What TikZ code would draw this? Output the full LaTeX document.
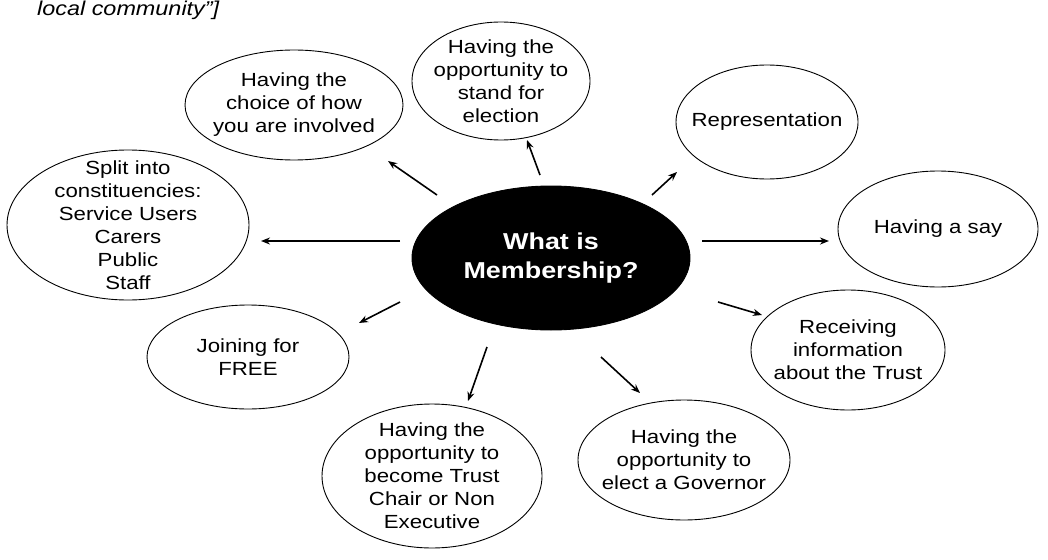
\documentclass[tikz,border=0pt]{standalone}
\usepackage{fontspec}
\setmainfont{Liberation Sans}[FakeStretch=1.17]
\usetikzlibrary{shapes.geometric,arrows.meta}
\begin{document}
\begin{tikzpicture}[x=1pt,y=-1pt,
  bub/.style={draw,ellipse,line width=0.9pt,inner sep=0pt},
  txt/.style={align=center,inner sep=0pt,font=\fontsize{19}{23}\selectfont},
  arr/.style={line width=1.6pt,-{Stealth[length=9pt,width=7pt]}}]
\useasboundingbox (0,0) rectangle (1048,559);
\node[font=\fontsize{20}{24}\selectfont\itshape,anchor=base west,inner sep=0pt] (top) at (37,16) {local community"]};
\node[bub,fill=black,minimum width=278pt,minimum height=144pt,
  label={[txt,text=white,font=\fontsize{23}{29}\selectfont\bfseries]center:What is\\Membership?}] (c) at (551,258) {};
\node[bub,minimum width=218pt,minimum height=110pt,label={[txt]center:Having the\\choice of how\\you are involved}] (n1) at (294,105) {};
\node[bub,minimum width=178pt,minimum height=118pt,label={[txt]center:Having the\\opportunity to\\stand for\\election}] (n2) at (501,81) {};
\node[bub,minimum width=182pt,minimum height=114pt,label={[txt]center:Representation}] (n3) at (767,122) {};
\node[bub,minimum width=200pt,minimum height=116pt,label={[txt]center:Having a say}] (n4) at (938,229) {};
\node[bub,minimum width=194pt,minimum height=120pt,label={[txt]center:Receiving\\information\\about the Trust}] (n5) at (848,350) {};
\node[bub,minimum width=212pt,minimum height=120pt,label={[txt]center:Having the\\opportunity to\\elect a Governor}] (n6) at (684,460) {};
\node[bub,minimum width=220pt,minimum height=144pt,label={[txt]center:Having the\\opportunity to\\become Trust\\Chair or Non\\Executive}] (n7) at (432,476) {};
\node[bub,minimum width=202pt,minimum height=104pt,label={[txt]center:Joining for\\FREE}] (n8) at (248,357) {};
\node[bub,minimum width=242pt,minimum height=150pt,label={[txt]center:Split into\\constituencies:\\Service Users\\Carers\\Public\\Staff}] (n9) at (128,225) {};
\coordinate (s1) at (437,195); \coordinate (e1) at (388,161);
\coordinate (s2) at (540,175); \coordinate (e2) at (527,140);
\coordinate (s3) at (652,195); \coordinate (e3) at (677,172);
\coordinate (s4) at (702,241); \coordinate (e4) at (829,241);
\coordinate (s5) at (718,302); \coordinate (e5) at (762,315);
\coordinate (s6) at (601,357); \coordinate (e6) at (640,393);
\coordinate (s7) at (487,347); \coordinate (e7) at (468,401);
\coordinate (s8) at (400,302); \coordinate (e8) at (359,323);
\coordinate (s9) at (400,241); \coordinate (e9) at (261,241);
\foreach \i in {1,...,9} \draw[arr] (s\i) -- (e\i);
\end{tikzpicture}
\end{document}
